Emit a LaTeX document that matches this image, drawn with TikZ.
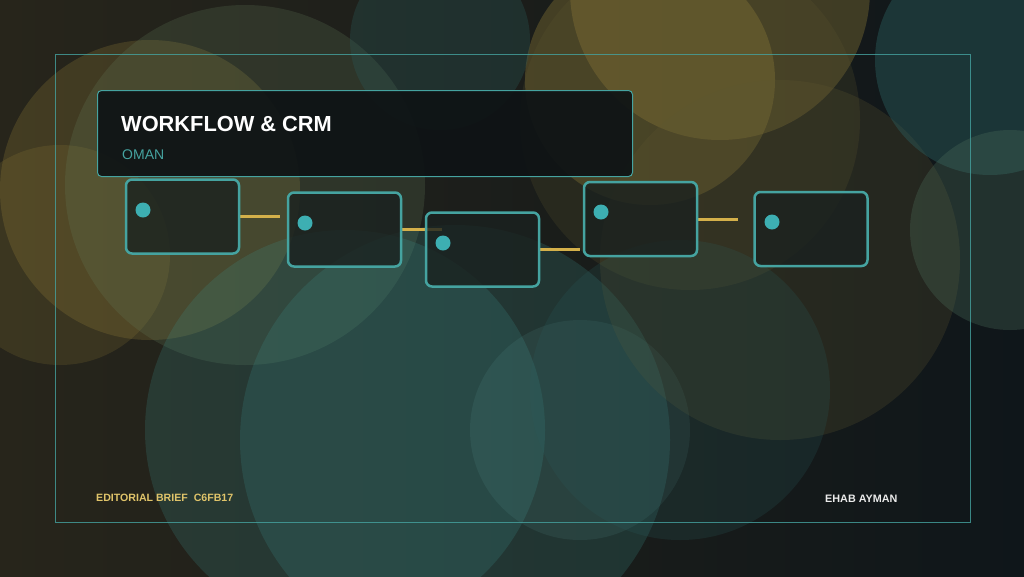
\documentclass[tikz,border=0pt]{standalone}
\usepackage{fontspec}
\setsansfont{Liberation Sans}
\usetikzlibrary{positioning}
\pgfdeclarelayer{back}
\pgfdeclarelayer{mid}
\pgfsetlayers{back,mid,main}
\definecolor{ink}{HTML}{15191B}
\definecolor{soil}{HTML}{27251B}
\definecolor{night}{HTML}{0F161A}
\definecolor{gold}{HTML}{A8903C}
\definecolor{sage}{HTML}{66805E}
\definecolor{sea}{HTML}{3C8E8A}
\definecolor{deep}{HTML}{2A5C5C}
\definecolor{olive}{HTML}{5E5630}
\definecolor{rim}{HTML}{45A3A0}
\definecolor{pin}{HTML}{3DAFB2}
\definecolor{wire}{HTML}{D4B04A}
\definecolor{note}{HTML}{E0C46A}
\definecolor{panel}{HTML}{0E1315}
\definecolor{cell}{HTML}{1A211F}

\begin{document}
\begin{tikzpicture}
   [x=1pt,y=-1pt,font=\sffamily,
    stage/.style={draw=rim,line width=2.5pt,rounded corners=6pt,fill=cell,fill opacity=.8,
       text opacity=1,minimum width=113pt,minimum height=74pt,inner sep=0pt},
    pin/.style={circle,fill=pin,minimum size=15pt,inner sep=0pt},
    link/.style={draw=wire,line width=3pt}]
   \useasboundingbox (0,0) rectangle (1024,576);
   \begin{pgfonlayer}{back}
      \shade[left color=soil,right color=night] (0,0) rectangle (1024,576);
      \begin{scope}[fill opacity=.22]
         \fill[gold] (150,190) circle (150);
         \fill[gold,fill opacity=.16] (60,255) circle (110);
         \fill[sage] (245,185) circle (180);
         \fill[sea] (345,430) circle (200);
         \fill[sea] (455,440) circle (215);
         \fill[sea!80!white,fill opacity=.12] (580,430) circle (110);
         \fill[gold,fill opacity=.3] (650,80) circle (125);
         \fill[gold,fill opacity=.3] (720,-10) circle (150);
         \fill[olive] (690,120) circle (170);
         \fill[olive,fill opacity=.25] (780,260) circle (180);
         \fill[deep] (680,390) circle (150);
         \fill[deep,fill opacity=.45] (990,60) circle (115);
         \fill[sage!60!deep,fill opacity=.3] (1010,230) circle (100);
         \fill[deep,fill opacity=.3] (440,40) circle (90);
      \end{scope}
   \end{pgfonlayer}

   \draw[rim,opacity=.8,line width=1pt] (55,54) rectangle (970,522);

   \node[draw=rim,line width=1pt,rounded corners=4pt,fill=panel,fill opacity=.92,text opacity=1,
      minimum width=535pt,minimum height=86pt] (head) at (365,133.5) {};
   \node[anchor=base west,text=white,font=\sffamily\bfseries\fontsize{21.8}{26}\selectfont,inner xsep=0pt]
      (title) at (121,131) {WORKFLOW \& CRM};
   \node[anchor=base west,text=rim,font=\sffamily\fontsize{14}{16}\selectfont,inner xsep=0pt]
      (place) at (122,159) {OMAN};

   \node[stage] (s1) at (182.5,216.5) {};
   \node[stage] (s2) at (344.5,229.5) {};
   \node[stage] (s3) at (482.5,249.5) {};
   \node[stage] (s4) at (640.5,219) {};
   \node[stage] (s5) at (811,229) {};

   \node[pin] (p1) at (143,210) {};
   \node[pin] (p2) at (305,223) {};
   \node[pin] (p3) at (443,243) {};
   \node[pin] (p4) at (601,212) {};
   \node[pin] (p5) at (772,222) {};

   \coordinate[right=40pt of s1.east] (e1);
   \coordinate[right=40pt of s2.east] (e2);
   \coordinate[right=40pt of s3.east] (e3);
   \coordinate[right=40pt of s4.east] (e4);
   \begin{pgfonlayer}{mid}
      \draw[link] (s1.east) -- (e1);
      \draw[link] (s2.east) -- (e2);
      \draw[link] (s3.east) -- (e3);
      \draw[link] (s4.east) -- (e4);
   \end{pgfonlayer}

   \node[anchor=base west,text=note,font=\sffamily\bfseries\fontsize{10.6}{13}\selectfont,inner xsep=0pt]
      (brief) at (96,501) {EDITORIAL BRIEF\ \ C6FB17};
   \node[anchor=base west,text=white!92!black,font=\sffamily\bfseries\fontsize{10.8}{13}\selectfont,inner xsep=0pt]
      (author) at (825,502) {EHAB AYMAN};
\end{tikzpicture}
\end{document}
